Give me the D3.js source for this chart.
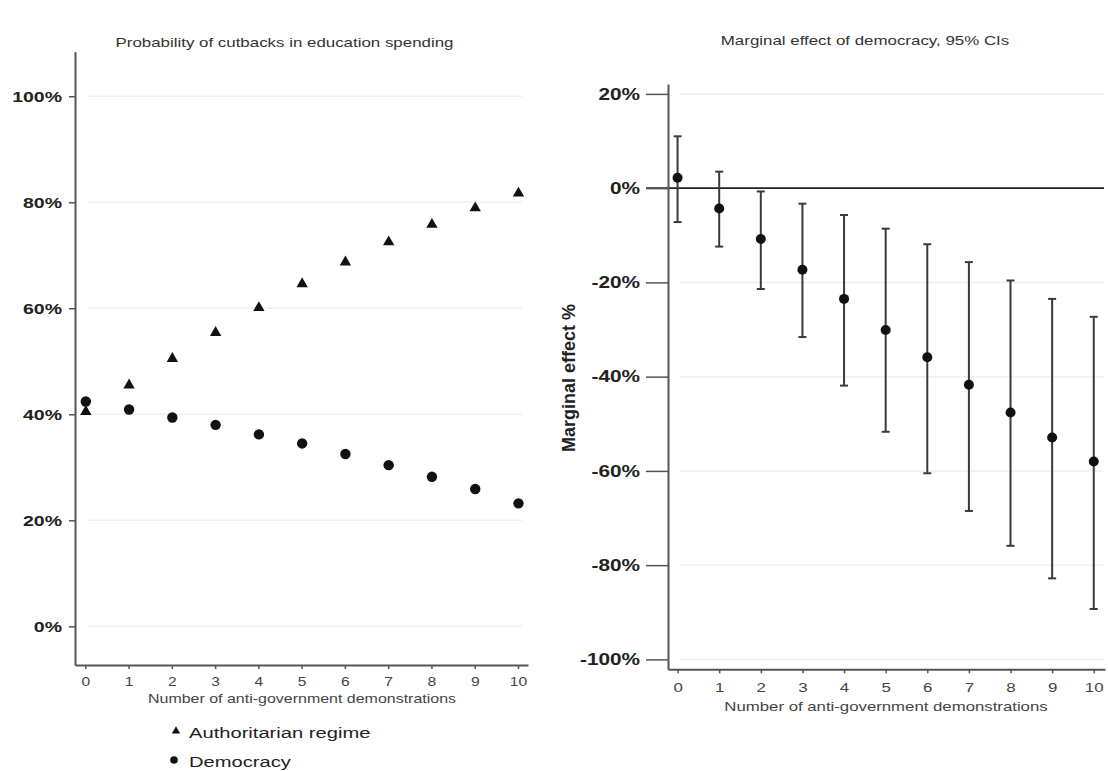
<!DOCTYPE html>
<html>
<head>
<meta charset="utf-8">
<script src="https://cdn.jsdelivr.net/npm/d3@7"></script>
<style>
  body { margin: 0; background: #fff; }
  svg { display: block; font-family: "Liberation Sans", Arial, sans-serif; }
</style>
</head>
<body>
<svg id="chart" width="1108" height="771"></svg>
<script>
// demonstrations 0..10
var demos = [ 0, 1, 2, 3, 4, 5, 6, 7, 8, 9, 10 ];

// left panel: predicted probability of cutbacks (%)
var authoritarian = [ 40.5, 45.5, 50.5, 55.4, 60.1, 64.6, 68.7, 72.5, 75.8, 78.9, 81.7 ];
var democracy = [ 42.4, 40.9, 39.4, 38.0, 36.2, 34.5, 32.5, 30.4, 28.2, 25.9, 23.2 ];

// right panel: marginal effect of democracy with 95% CIs (%)
var effect = [ 2.2, -4.3, -10.8, -17.3, -23.5, -30.1, -35.9, -41.7, -47.6, -52.9, -58.0 ];
var ciLow = [ -7.2, -12.4, -21.4, -31.6, -41.9, -51.7, -60.5, -68.5, -75.9, -82.8, -89.3 ];
var ciHigh = [ 11.0, 3.5, -0.7, -3.3, -5.7, -8.6, -11.9, -15.7, -19.6, -23.5, -27.3 ];

var leftTicks = [ 0, 20, 40, 60, 80, 100 ];
var rightTicks = [ 20, 0, -20, -40, -60, -80, -100 ];

var SX = 1.3; // the source image is stretched horizontally
var axisColor = '#555';
var gridColor = '#e9f1f1';

var svg = d3.select( '#chart' );

function label( x, y, txt, size, opts ) {
	opts = opts || {};
	return svg.append( 'text' )
		.attr( 'transform', 'translate(' + x + ',' + y + ') scale(' + SX + ',1)' )
		.attr( 'text-anchor', opts.anchor || 'middle' )
		.attr( 'font-size', size )
		.attr( 'font-weight', opts.weight || 'normal' )
		.attr( 'fill', opts.fill || '#333' )
		.text( txt );
}

function pct( d ) {
	return d + '%';
}

// ---------- left panel ----------
var xL = d3.scaleLinear().domain( [ -0.25, 10.22 ] ).range( [ 75, 528 ] );
var yL = d3.scaleLinear().domain( [ -7.3, 108.4 ] ).range( [ 665, 51.7 ] );

var gL = svg.append( 'g' );

gL.selectAll( 'line.grid' )
	.data( leftTicks )
	.enter().append( 'line' )
	.attr( 'x1', 88 ).attr( 'x2', 522 )
	.attr( 'y1', yL ).attr( 'y2', yL )
	.attr( 'stroke', gridColor )
	.attr( 'stroke-width', 1.5 );

var axL = gL.append( 'g' )
	.attr( 'transform', 'translate(' + xL.range()[ 0 ] + ',0)' )
	.call( d3.axisLeft( yL ).tickValues( leftTicks ).tickFormat( pct ).tickSize( 6 ).tickSizeOuter( 0 ) );
axL.select( '.domain' ).attr( 'stroke', axisColor ).attr( 'stroke-width', 2 );
axL.selectAll( '.tick line' ).attr( 'stroke', axisColor ).attr( 'stroke-width', 1.5 );
axL.selectAll( '.tick text' )
	.attr( 'x', -10 )
	.attr( 'transform', 'scale(' + SX + ',1)' )
	.attr( 'font-size', 15 )
	.attr( 'font-weight', 'bold' )
	.attr( 'font-family', 'Liberation Sans, Arial, sans-serif' )
	.attr( 'fill', '#222' );

var axLb = gL.append( 'g' )
	.attr( 'transform', 'translate(0,' + yL.range()[ 0 ] + ')' )
	.call( d3.axisBottom( xL ).tickValues( demos ).tickSize( 4 ).tickSizeOuter( 0 ) );
axLb.select( '.domain' ).attr( 'stroke', axisColor ).attr( 'stroke-width', 2 );
axLb.selectAll( '.tick line' ).attr( 'stroke', axisColor ).attr( 'stroke-width', 1.5 );
axLb.selectAll( '.tick text' )
	.attr( 'y', 12 )
	.attr( 'transform', 'scale(' + SX + ',1)' )
	.attr( 'font-size', 12 )
	.attr( 'font-family', 'Liberation Sans, Arial, sans-serif' )
	.attr( 'fill', '#444' );
axLb.selectAll( '.tick' ).attr( 'transform', function( d ) {
	return 'translate(' + xL( d ) + ',0)';
} );

var tri = d3.symbol().type( d3.symbolTriangle ).size( 56 );

gL.selectAll( 'path.auth' )
	.data( authoritarian )
	.enter().append( 'path' )
	.attr( 'class', 'auth' )
	.attr( 'd', tri )
	.attr( 'transform', function( d, i ) {
		return 'translate(' + xL( demos[ i ] ) + ',' + yL( d ) + ')';
	} )
	.attr( 'fill', '#111' );

gL.selectAll( 'circle.dem' )
	.data( democracy )
	.enter().append( 'circle' )
	.attr( 'class', 'dem' )
	.attr( 'cx', function( d, i ) {
		return xL( demos[ i ] );
	} )
	.attr( 'cy', yL )
	.attr( 'r', 5.2 )
	.attr( 'fill', '#111' );

label( 284.5, 47, 'Probability of cutbacks in education spending', 13 );
label( 302, 703, 'Number of anti-government demonstrations', 12.3, { fill: '#444' } );

// legend
svg.append( 'path' )
	.attr( 'd', d3.symbol().type( d3.symbolTriangle ).size( 30 ) )
	.attr( 'transform', 'translate(176,731)' )
	.attr( 'fill', '#111' );
svg.append( 'circle' )
	.attr( 'cx', 174 ).attr( 'cy', 760 ).attr( 'r', 3.8 )
	.attr( 'fill', '#111' );
label( 189, 738, 'Authoritarian regime', 15.5, { anchor: 'start', fill: '#222' } );
label( 189, 767, 'Democracy', 15.5, { anchor: 'start', fill: '#222' } );

// ---------- right panel ----------
var xR = d3.scaleLinear().domain( [ -0.23, 10.27 ] ).range( [ 668, 1105 ] );
var yR = d3.scaleLinear().domain( [ -102.1, 22.1 ] ).range( [ 669.3, 84 ] );

var gR = svg.append( 'g' );

gR.selectAll( 'line.grid' )
	.data( rightTicks.filter( function( d ) {
		return d !== 0;
	} ) )
	.enter().append( 'line' )
	.attr( 'x1', 680 ).attr( 'x2', 1105 )
	.attr( 'y1', yR ).attr( 'y2', yR )
	.attr( 'stroke', gridColor )
	.attr( 'stroke-width', 1.5 );

// zero reference line
gR.append( 'line' )
	.attr( 'x1', 646 ).attr( 'x2', 1104 )
	.attr( 'y1', yR( 0 ) ).attr( 'y2', yR( 0 ) )
	.attr( 'stroke', '#222' )
	.attr( 'stroke-width', 1.8 );

var axR = gR.append( 'g' )
	.attr( 'transform', 'translate(' + xR.range()[ 0 ] + ',0)' )
	.call( d3.axisLeft( yR ).tickValues( rightTicks ).tickFormat( pct ).tickSize( 22 ).tickSizeOuter( 0 ) );
axR.select( '.domain' ).attr( 'stroke', axisColor ).attr( 'stroke-width', 2 );
axR.selectAll( '.tick line' ).attr( 'stroke', axisColor ).attr( 'stroke-width', 1.5 );
axR.selectAll( '.tick text' )
	.attr( 'x', -21.5 )
	.attr( 'transform', 'scale(' + SX + ',1)' )
	.attr( 'font-size', 16 )
	.attr( 'font-weight', 'bold' )
	.attr( 'font-family', 'Liberation Sans, Arial, sans-serif' )
	.attr( 'fill', '#222' );

var axRb = gR.append( 'g' )
	.attr( 'transform', 'translate(0,' + yR.range()[ 0 ] + ')' )
	.call( d3.axisBottom( xR ).tickValues( demos ).tickSize( 4 ).tickSizeOuter( 0 ) );
axRb.select( '.domain' ).attr( 'stroke', axisColor ).attr( 'stroke-width', 2 );
axRb.selectAll( '.tick line' ).attr( 'stroke', axisColor ).attr( 'stroke-width', 1.5 );
axRb.selectAll( '.tick text' )
	.attr( 'y', 13 )
	.attr( 'transform', 'scale(' + SX + ',1)' )
	.attr( 'font-size', 13 )
	.attr( 'font-family', 'Liberation Sans, Arial, sans-serif' )
	.attr( 'fill', '#444' );

// error bars
var bars = gR.selectAll( 'g.bar' )
	.data( demos )
	.enter().append( 'g' )
	.attr( 'class', 'bar' );

bars.append( 'line' )
	.attr( 'x1', xR ).attr( 'x2', xR )
	.attr( 'y1', function( d, i ) {
		return yR( ciLow[ i ] );
	} )
	.attr( 'y2', function( d, i ) {
		return yR( ciHigh[ i ] );
	} )
	.attr( 'stroke', '#3a3a3a' )
	.attr( 'stroke-width', 2 );

[ ciLow, ciHigh ].forEach( function( arr ) {
	bars.append( 'line' )
		.attr( 'x1', function( d ) {
			return xR( d ) - 4;
		} )
		.attr( 'x2', function( d ) {
			return xR( d ) + 4;
		} )
		.attr( 'y1', function( d, i ) {
			return yR( arr[ i ] );
		} )
		.attr( 'y2', function( d, i ) {
			return yR( arr[ i ] );
		} )
		.attr( 'stroke', '#3a3a3a' )
		.attr( 'stroke-width', 2 );
} );

bars.append( 'circle' )
	.attr( 'cx', xR )
	.attr( 'cy', function( d, i ) {
		return yR( effect[ i ] );
	} )
	.attr( 'r', 5 )
	.attr( 'fill', '#111' );

label( 865, 45, 'Marginal effect of democracy, 95% CIs', 13 );
label( 886, 711, 'Number of anti-government demonstrations', 12.9, { fill: '#444' } );

svg.append( 'text' )
	.attr( 'transform', 'translate(575,378) rotate(-90)' )
	.attr( 'text-anchor', 'middle' )
	.attr( 'font-size', 18 )
	.attr( 'font-weight', 'bold' )
	.attr( 'fill', '#222' )
	.text( 'Marginal effect %' );
</script>
</body>
</html>
